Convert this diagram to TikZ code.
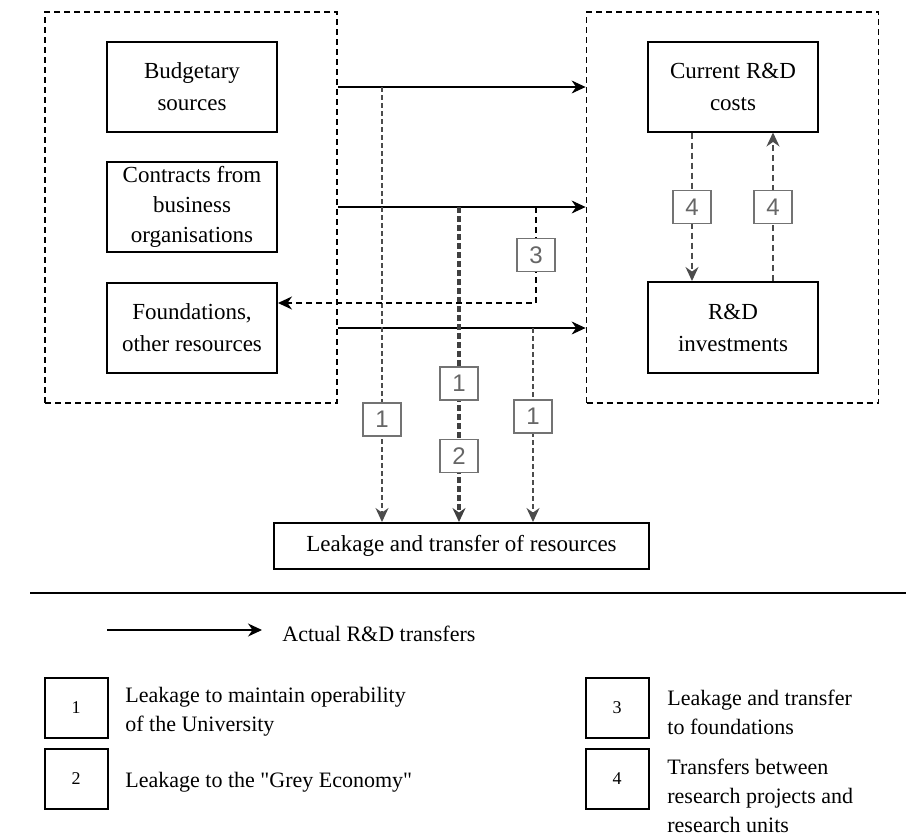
\documentclass[tikz,border=0pt]{standalone}
\usepackage{fontspec}
\setmainfont{Liberation Serif}
\setsansfont{Liberation Sans}
\usetikzlibrary{arrows.meta}
\begin{document}
\begin{tikzpicture}[x=0.5pt,y=-0.5pt,
    font=\fontsize{11.5}{16}\selectfont,
    >={Stealth[length=7pt,width=6.5pt]},
    group/.style={draw,dash pattern=on 3pt off 2pt,line width=0.9pt,
      minimum width=146pt,minimum height=195.5pt,inner sep=0pt},
    block/.style={draw,line width=1pt,align=center,
      minimum width=85pt,minimum height=45pt,inner sep=0pt},
    flow/.style={->,line width=0.6pt},
    leak/.style={->,draw=black!70,line width=0.7pt,dash pattern=on 2.5pt off 1.5pt},
    grey/.style={->,draw=black!75,line width=2.2pt,dash pattern=on 3pt off 1.5pt},
    back/.style={->,line width=0.9pt,dash pattern=on 3pt off 2pt},
    swap/.style={->,draw=black!70,line width=0.7pt,dash pattern=on 3pt off 2pt},
    tag/.style={solid,draw=black!55,fill=white,line width=0.7pt,inner sep=0pt,
      minimum width=19pt,minimum height=16.5pt,
      font=\sffamily\fontsize{12}{12}\selectfont,text=black!60},
    key/.style={draw,line width=1pt,inner sep=0pt,
      minimum width=31.5pt,minimum height=30pt,font=\fontsize{9}{9}\selectfont},
    keytext/.style={anchor=west,align=left,inner sep=0pt,
      font=\fontsize{11}{14.5}\selectfont}]
  \useasboundingbox (0,0) rectangle (906,836);
  \node[group] (src) at (191,207.5) {};
  \node[group] (dst) at (732.5,207.5) {};
  \node[block] (budget) at (192,87) {Budgetary\\sources};
  \node[block,font=\fontsize{11.5}{15}\selectfont] (contracts) at (192,207) {Contracts from\\business\\organisations};
  \node[block] (found) at (192,328) {Foundations,\\other resources};
  \node[block] (current) at (733,86.5) {Current R\&D\\costs};
  \node[block,minimum height=45.5pt] (invest) at (733,327.5) {R\&D\\investments};
  \node[block,minimum width=187.5pt,minimum height=23pt] (leakage) at (461.5,546) {Leakage and transfer of resources};
  \draw[flow] (src.east |- budget) -- (dst.west |- budget);
  \draw[flow] (src.east |- contracts) -- (dst.west |- contracts);
  \draw[flow] (src.east |- found) -- (dst.west |- found);
  \coordinate (l1) at (382,87);
  \coordinate (l2) at (459,207);
  \coordinate (l3) at (533,328);
  \coordinate (r3top) at (536,207);
  \coordinate (r3bot) at (536,303);
  \draw[leak] (l1) -- (l1 |- leakage.north) node[tag,pos=0.764] {1};
  \draw[grey] (l2) -- (l2 |- leakage.north) node[tag,pos=0.56] {1} node[tag,pos=0.79] {2};
  \draw[leak] (l3) -- (l3 |- leakage.north) node[tag,pos=0.456] {1};
  \draw[back] (r3top) -- node[tag] {3} (r3bot) -- (r3bot -| found.east);
  \draw[swap] ([xshift=-20.5pt]current.south) -- node[tag] {4} ([xshift=-20.5pt]invest.north);
  \draw[swap] ([xshift=20pt]invest.north) -- node[tag] {4} ([xshift=20pt]current.south);
  \coordinate (rule-l) at (30,593);
  \coordinate (rule-r) at (906,593);
  \draw[line width=1pt] (rule-l) -- (rule-r);
  \coordinate (keystart) at (107,630);
  \coordinate (keyend) at (262,630);
  \draw[flow] (keystart) -- (keyend);
  \node[keytext] (flowtext) at (282,634) {Actual R\&D transfers};
  \node[key] (k1) at (76,708) {1};
  \node[key] (k2) at (76,779) {2};
  \node[key] (k3) at (617,708) {3};
  \node[key] (k4) at (617,779) {4};
  \node[keytext] (t1) at (125,712) {Leakage to maintain operability\\of the University};
  \node[keytext] (t2) at (125,782) {Leakage to the \textquotedbl Grey Economy\textquotedbl};
  \node[keytext] (t3) at (667,712) {Leakage and transfer\\to foundations};
  \node[keytext] (t4) at (667,796) {Transfers between\\research projects and\\research units};
\end{tikzpicture}
\end{document}
